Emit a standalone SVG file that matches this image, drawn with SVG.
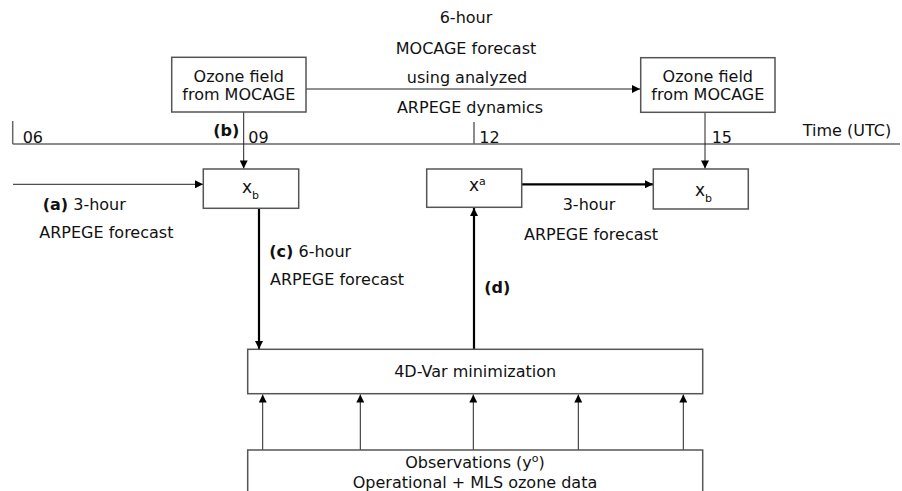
<svg xmlns="http://www.w3.org/2000/svg" width="902" height="491" viewBox="0 0 902 491">
<defs>
<style>
text{font-family:"DejaVu Sans","Liberation Sans",sans-serif;font-size:16px;fill:#111}
.b{font-weight:bold}
.m{text-anchor:middle}
.box{fill:#fff;stroke:#555;stroke-width:1.5}
.thin{stroke:#222;stroke-width:1;fill:none}
.thick{stroke:#000;stroke-width:2.2;fill:none}
.axis{stroke:#666;stroke-width:1.5;fill:none}
.sub{font-size:11px}
.var{font-size:17px}
</style>
<marker id="ah" viewBox="0 0 10 10" refX="10" refY="5" markerWidth="10" markerHeight="8" markerUnits="userSpaceOnUse" orient="auto">
<path d="M0,0 L10,5 L0,10 z" fill="#000"/>
</marker>
</defs>
<rect width="902" height="491" fill="#fff"/>

<g id="timeline">
<line class="axis" x1="12.7" y1="144" x2="900" y2="144"/>
<line class="axis" x1="12.7" y1="121" x2="12.7" y2="144"/>
<line class="axis" x1="474" y1="122" x2="474" y2="144"/>
<text x="22.7" y="143">06</text>
<text x="248.3" y="143">09</text>
<text x="479.3" y="143">12</text>
<text x="711.7" y="143">15</text>
<text x="802.7" y="136">Time (UTC)</text>
</g>

<g id="connectors">
<line class="thin" x1="306" y1="89" x2="640" y2="89" marker-end="url(#ah)"/>
<line class="thin" x1="243.7" y1="112" x2="243.7" y2="168.5" marker-end="url(#ah)"/>
<line class="thin" x1="705" y1="112.3" x2="705" y2="168.5" marker-end="url(#ah)"/>
<line class="thin" x1="13" y1="184.3" x2="203" y2="184.3" marker-end="url(#ah)"/>
<line class="thick" x1="521.7" y1="184.3" x2="653" y2="184.3" marker-end="url(#ah)"/>
<line class="thick" x1="259" y1="208.3" x2="259" y2="349" marker-end="url(#ah)"/>
<line class="thick" x1="474" y1="349" x2="474" y2="208" marker-end="url(#ah)"/>
<line class="thin" x1="262.7" y1="450" x2="262.7" y2="394.5" marker-end="url(#ah)"/>
<line class="thin" x1="360.3" y1="450" x2="360.3" y2="394.5" marker-end="url(#ah)"/>
<line class="thin" x1="473.3" y1="450" x2="473.3" y2="394.5" marker-end="url(#ah)"/>
<line class="thin" x1="578.3" y1="450" x2="578.3" y2="394.5" marker-end="url(#ah)"/>
<line class="thin" x1="683.3" y1="450" x2="683.3" y2="394.5" marker-end="url(#ah)"/>
</g>

<g id="labels">
<text class="m" x="466" y="23">6-hour</text>
<text class="m" x="466" y="54">MOCAGE forecast</text>
<text class="m" x="467" y="83">using analyzed</text>
<text class="m" x="470" y="113">ARPEGE dynamics</text>
<text class="b" x="213.3" y="136">(b)</text>
<text x="42.7" y="210"><tspan class="b">(a)</tspan> 3-hour</text>
<text x="39.3" y="238">ARPEGE forecast</text>
<text x="269.3" y="257"><tspan class="b">(c)</tspan> 6-hour</text>
<text x="270" y="285">ARPEGE forecast</text>
<text class="b" x="484.3" y="293">(d)</text>
<text x="562.7" y="210">3-hour</text>
<text x="524" y="240">ARPEGE forecast</text>
</g>

<g id="ozone1">
<rect class="box" x="171.7" y="57.3" width="134.3" height="54.7"/>
<text class="m" x="238.8" y="81.5">Ozone field</text>
<text class="m" x="238.8" y="100">from MOCAGE</text>
</g>

<g id="ozone2">
<rect class="box" x="640.7" y="57.7" width="134.3" height="54.6"/>
<text class="m" x="707.8" y="81.5">Ozone field</text>
<text class="m" x="707.8" y="100">from MOCAGE</text>
</g>

<g id="xb1">
<rect class="box" x="203.3" y="169" width="95.4" height="39.3"/>
<text class="var" x="242" y="193">x<tspan class="sub" dy="6">b</tspan></text>
</g>

<g id="xa">
<rect class="box" x="426.7" y="169" width="95" height="38.3"/>
<text class="var" x="469" y="191">x<tspan class="sub" dy="-6">a</tspan></text>
</g>

<g id="xb2">
<rect class="box" x="653.3" y="169" width="95" height="40"/>
<text class="var" x="695" y="196">x<tspan class="sub" dy="6">b</tspan></text>
</g>

<g id="minimization">
<rect class="box" x="247.7" y="349.3" width="455" height="44.4"/>
<text class="m" x="475.2" y="377.3">4D-Var minimization</text>
</g>

<g id="observations">
<rect class="box" x="247.7" y="450" width="455" height="50"/>
<text class="m" x="475" y="468.3">Observations (y<tspan class="sub" dy="-6">o</tspan><tspan dy="6">)</tspan></text>
<text class="m" x="475" y="488.3">Operational + MLS ozone data</text>
</g>
</svg>
